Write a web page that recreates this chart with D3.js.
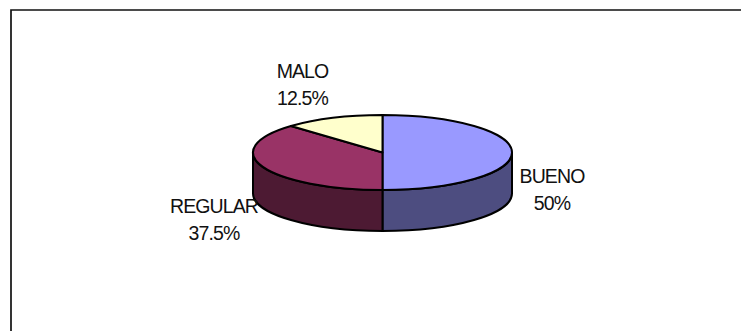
<!DOCTYPE html>
<html><head><meta charset="utf-8">
<script src="https://cdn.jsdelivr.net/npm/d3@7"></script>
<style>html,body{margin:0;padding:0;background:#fff}svg{display:block}</style>
</head><body><svg id="c" width="741" height="331"></svg>
<script>
const categories = ["BUENO", "REGULAR", "MALO"];
const values = [50, 37.5, 12.5];
const percentLabels = ["50%", "37.5%", "12.5%"];
const topColors = ["#9999ff", "#993366", "#ffffcc"];
const sideColors = ["#4d4d80", "#4d1a33", "#808066"];

const cx = 382.5, cy = 152.5, rx = 129.5, ry = 37.5, depth = 41;
const svg = d3.select("#c");

svg.append("path").attr("d", "M11,331V10H741")
  .attr("fill", "none").attr("stroke", "#111").attr("stroke-width", 1.7);

const arcs = d3.pie().sort(null).value(d => d)(values);
const px = a => cx + rx * Math.sin(a), py = (a, off = 0) => cy - ry * Math.cos(a) + off;

const wall = svg.append("g");
arcs.forEach((d, i) => {
  const a0 = Math.max(d.startAngle, Math.PI / 2), a1 = Math.min(d.endAngle, 3 * Math.PI / 2);
  if (a1 <= a0) return;
  const p = `M${px(a0)},${py(a0)}A${rx},${ry} 0 0 1 ${px(a1)},${py(a1)}` +
    `L${px(a1)},${py(a1, depth)}A${rx},${ry} 0 0 0 ${px(a0)},${py(a0, depth)}Z`;
  wall.append("path").attr("d", p).attr("fill", sideColors[i])
    .attr("stroke", "#000").attr("stroke-width", 2).attr("stroke-linejoin", "round");
});

const arc = d3.arc().innerRadius(0).outerRadius(1);
svg.append("g").attr("transform", `translate(${cx},${cy}) scale(${rx},${ry})`)
  .selectAll("path").data(arcs).join("path")
  .attr("d", arc).attr("fill", (d, i) => topColors[i])
  .attr("stroke", "#000").attr("stroke-width", 2)
  .attr("stroke-linejoin", "round").attr("vector-effect", "non-scaling-stroke");

const labelPos = [[552, 183], [214, 213], [302.5, 78]];
const lab = svg.append("g").attr("font-family", "'Liberation Sans',Arial,sans-serif")
  .attr("font-size", 19.5).attr("fill", "#111").attr("text-anchor", "middle").attr("letter-spacing", -0.9);
categories.forEach((c, i) => {
  lab.append("text").attr("x", labelPos[i][0]).attr("y", labelPos[i][1]).text(c);
  lab.append("text").attr("x", labelPos[i][0]).attr("y", labelPos[i][1] + 27).text(percentLabels[i]);
});
</script></body></html>
